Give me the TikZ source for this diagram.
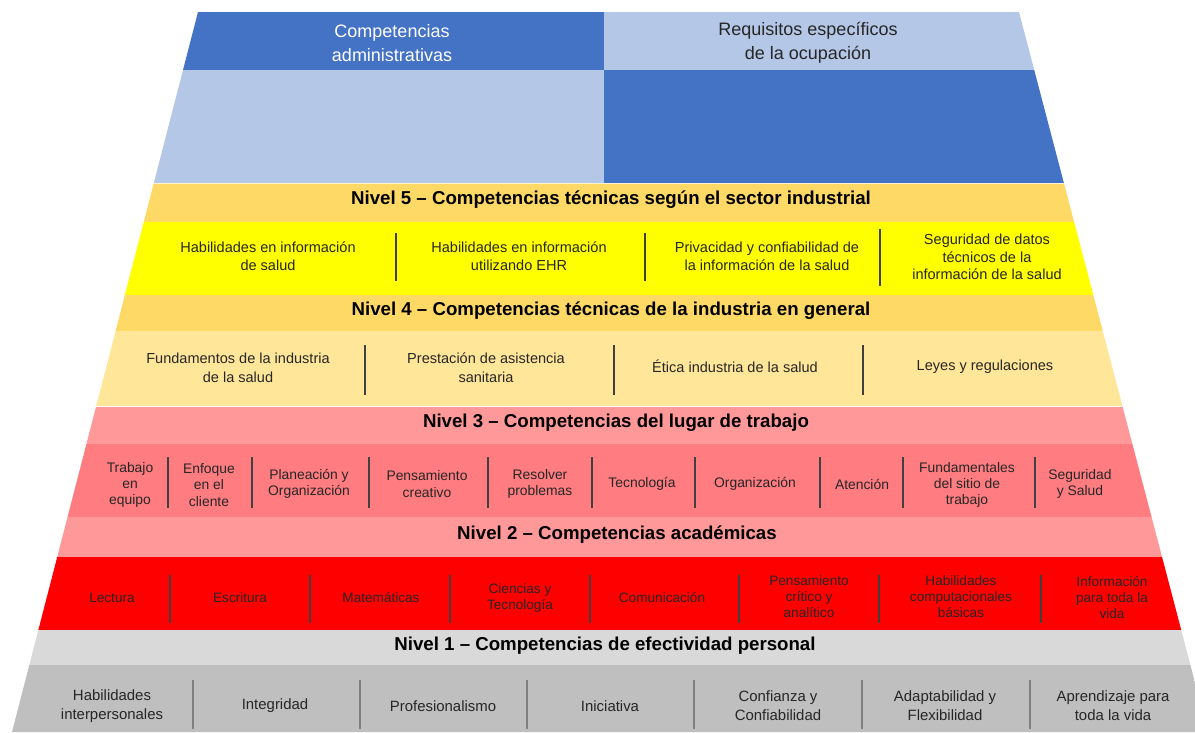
\documentclass[tikz,border=0pt]{standalone}
\usepackage{fontspec}
\setmainfont{Liberation Sans}

% palette
\definecolor{blueDark}{HTML}{4472C4}
\definecolor{blueLight}{HTML}{B4C7E7}
\definecolor{goldHdr}{HTML}{FFD966}
\definecolor{yellowRow}{HTML}{FFFF00}
\definecolor{goldRow}{HTML}{FFE699}
\definecolor{pinkHdr}{HTML}{FF9999}
\definecolor{salmonRow}{HTML}{FF7C80}
\definecolor{redRow}{HTML}{FF0000}
\definecolor{greyHdr}{HTML}{D9D9D9}
\definecolor{greyRow}{HTML}{BFBFBF}
\definecolor{inkText}{HTML}{262626}
\definecolor{divDark}{HTML}{404040}
\definecolor{divGrey}{HTML}{7F7F7F}

\begin{document}
\begin{tikzpicture}[x=0.75pt,y=-0.75pt,
  toptext/.style={align=center,inner sep=0pt,font=\fontsize{13.5}{18}\selectfont},
  levelhead/.style={inner sep=0pt,text=black,font=\fontsize{14}{16}\selectfont\bfseries},
  cellfive/.style={align=center,inner sep=0pt,text=inkText,font=\fontsize{10.9}{13.3}\selectfont},
  cellfour/.style={align=center,inner sep=0pt,text=inkText,font=\fontsize{10.9}{14}\selectfont},
  cellthree/.style={align=center,inner sep=0pt,text=inkText,font=\fontsize{10.4}{12.3}\selectfont},
  celltwo/.style={align=center,inner sep=0pt,text=inkText,font=\fontsize{10.2}{12}\selectfont},
  cellone/.style={align=center,inner sep=0pt,text=inkText,font=\fontsize{11.2}{14.2}\selectfont},
  divline/.style={draw=divDark,line width=1.6pt},
  divlight/.style={draw=divGrey,line width=0.9pt}]
\useasboundingbox (0,0) rectangle (1195,732);

% pyramid bands, cut to the trapezoid outline
\begin{scope}
  \clip (198,12) -- (1019,12) -- (1208,732) -- (12,732) -- cycle;
  \fill[blueDark]  (0,12)   rectangle (604,70);
  \fill[blueLight] (604,12) rectangle (1300,70);
  \fill[blueLight] (0,70)   rectangle (604,183);
  \fill[blueDark]  (604,70) rectangle (1300,183);
  \fill[goldHdr]   (0,183)  rectangle (1300,222);
  \fill[yellowRow] (0,222)  rectangle (1300,295);
  \fill[goldHdr]   (0,295)  rectangle (1300,331);
  \fill[goldRow]   (0,331)  rectangle (1300,406);
  \fill[pinkHdr]   (0,406)  rectangle (1300,444);
  \fill[salmonRow] (0,444)  rectangle (1300,517);
  \fill[pinkHdr]   (0,517)  rectangle (1300,557);
  \fill[redRow]    (0,557)  rectangle (1300,630);
  \fill[greyHdr]   (0,630)  rectangle (1300,665);
  \fill[greyRow]   (0,665)  rectangle (1300,740);
  \draw[white,opacity=0.7,line width=0.8pt] (0,183.5) -- (1300,183.5);
  \draw[white,line width=1.2pt] (0,406.5) -- (1300,406.5);
\end{scope}

% top block
\node[toptext,text=white]   (admin) at (392,43) {Competencias\\administrativas};
\node[toptext,text=inkText] (ocup)  at (808,43) {Requisitos específicos\\de la ocupación};

% level 5
\node[levelhead] (h5) at (611,200) {Nivel 5 – Competencias técnicas según el sector industrial};
\node[cellfive] (c5a) at (268,256) {Habilidades en información\\de salud};
\node[cellfive] (c5b) at (519,256) {Habilidades en información\\utilizando EHR};
\node[cellfive] (c5c) at (767,256) {Privacidad y confiabilidad de\\la información de la salud};
\node[cellfive] (c5d) at (987,257) {Seguridad de datos\\técnicos de la\\información de la salud};
\foreach \x in {396,645} \draw[divline] (\x,233) -- (\x,281);
\draw[divline] (880,229) -- (880,286);

% level 4
\node[levelhead] (h4) at (611,311) {Nivel 4 – Competencias técnicas de la industria en general};
\node[cellfour] (c4a) at (238,368) {Fundamentos de la industria\\de la salud};
\node[cellfour] (c4b) at (486,368) {Prestación de asistencia\\sanitaria};
\node[cellfour] (c4c) at (735,366) {Ética industria de la salud};
\node[cellfour] (c4d) at (985,367) {Leyes y regulaciones};
\foreach \x in {365,614,863} \draw[divline] (\x,345) -- (\x,395);

% level 3
\node[levelhead] (h3) at (616,423) {Nivel 3 – Competencias del lugar de trabajo};
\node[cellthree] (c3a) at (130,485) {Trabajo\\en\\equipo};
\node[cellthree] (c3b) at (209,485) {Enfoque\\en el\\cliente};
\node[cellthree] (c3c) at (309,484) {Planeación y\\Organización};
\node[cellthree] (c3d) at (427,484) {Pensamiento\\creativo};
\node[cellthree] (c3e) at (540,484) {Resolver\\problemas};
\node[cellthree] (c3f) at (642,484) {Tecnología};
\node[cellthree] (c3g) at (755,484) {Organización};
\node[cellthree] (c3h) at (862,484) {Atención};
\node[cellthree] (c3i) at (967,485) {Fundamentales\\del sitio de\\trabajo};
\node[cellthree] (c3j) at (1080,484) {Seguridad\\y Salud};
\foreach \x in {168,252,369,488,592,695,820,903,1035} \draw[divline] (\x,457) -- (\x,508);

% level 2
\node[levelhead] (h2) at (617,535) {Nivel 2 – Competencias académicas};
\node[celltwo] (c2a) at (112,598) {Lectura};
\node[celltwo] (c2b) at (240,598) {Escritura};
\node[celltwo] (c2c) at (381,598) {Matemáticas};
\node[celltwo] (c2d) at (520,598) {Ciencias y\\Tecnología};
\node[celltwo] (c2e) at (662,598) {Comunicación};
\node[celltwo] (c2f) at (809,597) {Pensamiento\\crítico y\\analítico};
\node[celltwo] (c2g) at (961,597) {Habilidades\\computacionales\\básicas};
\node[celltwo] (c2h) at (1112,598) {Información\\para toda la\\vida};
\foreach \x in {170,310,450,590,739,879,1041} \draw[divline] (\x,575) -- (\x,623);

% level 1
\node[levelhead] (h1) at (605,646) {Nivel 1 – Competencias de efectividad personal};
\node[cellone] (c1a) at (112,706) {Habilidades\\interpersonales};
\node[cellone] (c1b) at (275,706) {Integridad};
\node[cellone] (c1c) at (443,706) {Profesionalismo};
\node[cellone] (c1d) at (610,706) {Iniciativa};
\node[cellone] (c1e) at (778,706) {Confianza y\\Confiabilidad};
\node[cellone] (c1f) at (945,706) {Adaptabilidad y\\Flexibilidad};
\node[cellone] (c1g) at (1113,706) {Aprendizaje para\\toda la vida};
\foreach \x in {193,360,527,694,862,1030} \draw[divlight] (\x,680) -- (\x,729);
\end{tikzpicture}
\end{document}
